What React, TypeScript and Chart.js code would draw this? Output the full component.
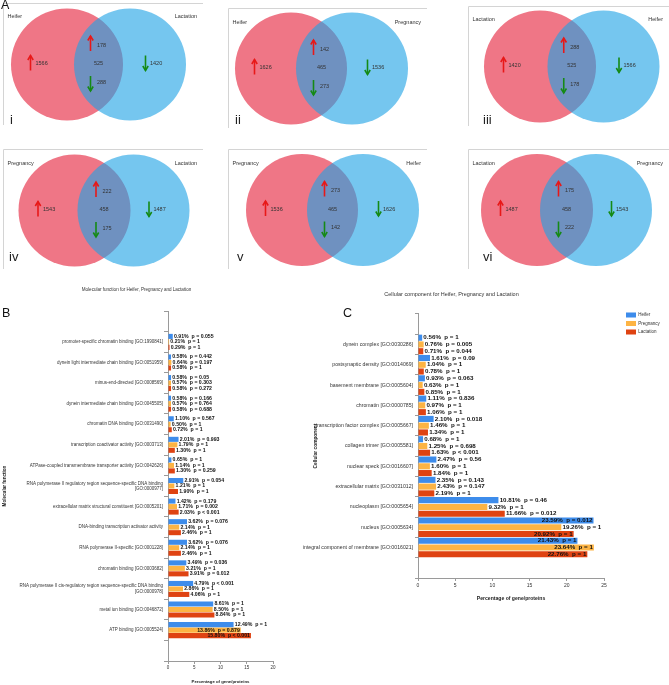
import React, { useEffect, useRef } from 'react';
import { Chart, registerables } from 'chart.js';

Chart.register(...registerables);

const FONT = '"Liberation Sans", Arial, sans-serif';

// ---------- Venn data ----------
const vennLeftNames = ['Heifer', 'Heifer', 'Lactation', 'Pregnancy', 'Pregnancy', 'Lactation'];
const vennRightNames = ['Lactation', 'Pregnancy', 'Heifer', 'Lactation', 'Heifer', 'Pregnancy'];
const vennLeftOnly = [1566, 1626, 1420, 1543, 1536, 1487];
const vennSharedUp = [178, 142, 288, 222, 273, 175];
const vennShared = [525, 465, 525, 458, 465, 458];
const vennSharedDown = [288, 273, 178, 175, 142, 222];
const vennRightOnly = [1420, 1536, 1566, 1487, 1626, 1543];
const vennNumerals = ['i', 'ii', 'iii', 'iv', 'v', 'vi'];

// ---------- Bar chart data ----------
const seriesNames = ['Heifer', 'Pregnancy', 'Lactation'];

const mfCategories = [
  'promoter-specific chromatin binding [GO:1990841]',
  'dynein light intermediate chain binding [GO:0051959]',
  'minus-end-directed [GO:0008569]',
  'dynein intermediate chain binding [GO:0045505]',
  'chromatin DNA binding [GO:0031490]',
  'transcription coactivator activity [GO:0003713]',
  'ATPase-coupled transmembrane transporter activity [GO:0042626]',
  'RNA polymerase II regulatory region sequence-specific DNA binding [GO:0000977]',
  'extracellular matrix structural constituent [GO:0005201]',
  'DNA-binding transcription activator activity',
  'RNA polymerase II-specific [GO:0001228]',
  'chromatin binding [GO:0003682]',
  'RNA polymerase II cis-regulatory region sequence-specific DNA binding [GO:0000978]',
  'metal ion binding [GO:0046872]',
  'ATP binding [GO:0005524]',
];
const mfHeifer = [0.91, 0.58, 0.58, 0.58, 1.10, 2.01, 0.65, 2.91, 1.42, 3.62, 3.62, 3.49, 4.79, 8.61, 12.49];
const mfPregnancy = [0.21, 0.64, 0.57, 0.57, 0.50, 1.79, 1.14, 1.21, 1.71, 2.14, 2.14, 3.21, 2.86, 8.50, 13.86];
const mfLactation = [0.29, 0.58, 0.58, 0.58, 0.72, 1.30, 1.30, 1.90, 2.03, 2.46, 2.46, 3.91, 4.06, 8.84, 15.80];
const mfHeiferP = ['0.055', '0.442', '0.05', '0.166', '0.567', '0.993', '1', '0.054', '0.179', '0.076', '0.076', '0.036', '<0.001', '1', '1'];
const mfPregnancyP = ['1', '0.197', '0.303', '0.764', '1', '1', '1', '1', '0.002', '1', '1', '1', '1', '1', '0.879'];
const mfLactationP = ['1', '1', '0.272', '0.688', '1', '1', '0.259', '1', '<0.001', '1', '1', '0.012', '1', '1', '<0.001'];
const mfXTicks = [0, 5, 10, 15, 20];

const ccCategories = [
  'dynein complex [GO:0030286]',
  'postsynaptic density [GO:0014069]',
  'basement membrane [GO:0005604]',
  'chromatin [GO:0000785]',
  'transcription factor complex [GO:0005667]',
  'collagen trimer [GO:0005581]',
  'nuclear speck [GO:0016607]',
  'extracellular matrix [GO:0031012]',
  'nucleoplasm [GO:0005654]',
  'nucleus [GO:0005634]',
  'integral component of membrane [GO:0016021]',
];
const ccHeifer = [0.56, 1.61, 0.93, 1.11, 2.10, 0.68, 2.47, 2.35, 10.81, 23.59, 21.43];
const ccPregnancy = [0.76, 1.04, 0.63, 0.97, 1.46, 1.25, 1.60, 2.43, 9.32, 19.26, 23.64];
const ccLactation = [0.71, 0.78, 0.85, 1.06, 1.34, 1.63, 1.84, 2.19, 11.66, 20.92, 22.76];
const ccHeiferP = ['1', '0.09', '0.063', '0.836', '0.018', '1', '0.56', '0.143', '0.46', '0.012', '1'];
const ccPregnancyP = ['0.005', '1', '1', '1', '1', '0.698', '1', '0.147', '1', '1', '1'];
const ccLactationP = ['0.044', '1', '1', '1', '1', '<0.001', '1', '1', '0.012', '1', '1'];
const ccXTicks = [0, 5, 10, 15, 20, 25];

// ---------- styles / layout ----------
const seriesColors = ['#3d8ceb', '#fdb444', '#df4312'];
const AXIS_COLOR = '#9a9a9a';
const VENN_LEFT_COLOR = 'rgb(239,118,134)';
const VENN_RIGHT_COLOR = 'rgba(29,162,229,0.61)';
const ARROW_UP = '#e81818';
const ARROW_DOWN = '#158a15';
const VENN_R = 56;
const VENN_BOX = [
  { x: 3, y: 3, w: 200, h: 122 },
  { x: 228, y: 8, w: 199, h: 120 },
  { x: 468, y: 6, w: 201, h: 120 },
  { x: 3, y: 149, w: 200, h: 120 },
  { x: 228, y: 149, w: 199, h: 120 },
  { x: 468, y: 149, w: 201, h: 120 },
];
const VENN_CENTERS = [
  [64, 127, 61.5],
  [63, 124, 60.5],
  [72, 135.5, 60.5],
  [71.5, 130.5, 61.5],
  [74, 135, 61],
  [69, 128, 61],
];
const NUMERAL_POS = [[7, 117], [7, 112], [15, 114], [6, 108], [9, 108], [15, 108]];
const LABEL_Y = [13, 14, 13, 14, 14, 14];

function drawArrow(ctx: any, x: number, yc: number, up: boolean, color: string) {
  const half = 7.5;
  const tip = up ? yc - half : yc + half;
  const tail = up ? yc + half : yc - half;
  const d = up ? 4.5 : -4.5;
  ctx.save();
  ctx.strokeStyle = color;
  ctx.lineWidth = 1.6;
  ctx.lineJoin = 'miter';
  ctx.beginPath();
  ctx.moveTo(x, tail);
  ctx.lineTo(x, tip);
  ctx.stroke();
  ctx.beginPath();
  ctx.moveTo(x - 2.7, tip + d);
  ctx.lineTo(x, tip);
  ctx.lineTo(x + 2.7, tip + d);
  ctx.stroke();
  ctx.restore();
}

function makeVennPlugin(i: number) {
  return {
    id: 'vennText' + i,
    afterDatasetsDraw(chart: any) {
      const { ctx } = chart;
      const box = VENN_BOX[i];
      const xs = chart.scales.x;
      const ys = chart.scales.y;
      const X = (v: number) => xs.getPixelForValue(v);
      const Y = (v: number) => ys.getPixelForValue(v);
      const [lcx, rcx, cy] = VENN_CENTERS[i];
      const mid = (lcx + rcx) / 2;
      const ty = cy - 1;
      ctx.save();
      ctx.strokeStyle = '#d4d4d4';
      ctx.lineWidth = 1;
      ctx.beginPath();
      ctx.moveTo(0.5, chart.height);
      ctx.lineTo(0.5, 0.5);
      ctx.lineTo(chart.width, 0.5);
      ctx.stroke();

      ctx.fillStyle = '#333';
      ctx.textBaseline = 'middle';
      ctx.font = `5.5px ${FONT}`;
      ctx.textAlign = 'left';
      ctx.fillText(vennLeftNames[i], X(4.5), Y(LABEL_Y[i]));
      ctx.textAlign = 'right';
      ctx.fillText(vennRightNames[i], X(box.w - 6), Y(LABEL_Y[i]));

      ctx.textAlign = 'left';
      ctx.fillText(String(vennLeftOnly[i]), X(lcx - 31.5), Y(ty));
      ctx.fillText(String(vennSharedUp[i]), X(mid - 1.5), Y(ty - 18.5));
      ctx.fillText(String(vennSharedDown[i]), X(mid - 1.5), Y(ty + 18.5));
      ctx.fillText(String(vennRightOnly[i]), X(rcx + 20), Y(ty));
      ctx.textAlign = 'center';
      ctx.fillText(String(vennShared[i]), X(mid), Y(ty));

      drawArrow(ctx, X(lcx - 36.5), Y(cy - 1.5), true, ARROW_UP);
      drawArrow(ctx, X(mid - 8), Y(cy - 21), true, ARROW_UP);
      drawArrow(ctx, X(mid - 8), Y(cy + 19), false, ARROW_DOWN);
      drawArrow(ctx, X(rcx + 15.5), Y(cy - 1.5), false, ARROW_DOWN);

      ctx.font = `13px ${FONT}`;
      ctx.fillStyle = '#222';
      ctx.textAlign = 'left';
      ctx.fillText(vennNumerals[i], X(NUMERAL_POS[i][0]), Y(NUMERAL_POS[i][1]));
      ctx.restore();
    },
  };
}

function vennConfig(i: number) {
  const box = VENN_BOX[i];
  const [lcx, rcx, cy] = VENN_CENTERS[i];
  return {
    type: 'bubble',
    data: {
      datasets: [
        { label: vennLeftNames[i], data: [{ x: lcx, y: cy, r: VENN_R }], backgroundColor: VENN_LEFT_COLOR, borderWidth: 0, hoverBorderWidth: 0, order: 2, clip: false },
        { label: vennRightNames[i], data: [{ x: rcx, y: cy, r: VENN_R }], backgroundColor: VENN_RIGHT_COLOR, borderWidth: 0, hoverBorderWidth: 0, order: 1, clip: false },
      ],
    },
    options: {
      responsive: false,
      animation: false,
      events: [],
      layout: { autoPadding: false, padding: 0 },
      plugins: { legend: { display: false }, tooltip: { enabled: false }, title: { display: false } },
      scales: {
        x: { type: 'linear', display: false, min: 0, max: box.w },
        y: { type: 'linear', display: false, min: 0, max: box.h, reverse: true },
      },
    },
    plugins: [makeVennPlugin(i)],
  };
}

function formatBarLabel(v: number, p: string) {
  const ps = p.startsWith('<') ? `p < ${p.slice(1)}` : `p = ${p}`;
  return `${v.toFixed(2)}%  ${ps}`;
}

function makeBarLabelPlugin(pvals: string[][], size: number) {
  return {
    id: 'barLabels',
    afterDatasetsDraw(chart: any) {
      const { ctx, chartArea } = chart;
      ctx.save();
      ctx.font = `bold ${size}px ${FONT}`;
      ctx.fillStyle = '#111';
      ctx.textBaseline = 'middle';
      chart.data.datasets.forEach((ds: any, di: number) => {
        const meta = chart.getDatasetMeta(di);
        meta.data.forEach((bar: any, idx: number) => {
          const text = formatBarLabel(ds.data[idx].x, pvals[di][idx]);
          const w = ctx.measureText(text).width;
          if (bar.x + 1.2 + w <= chartArea.right) {
            ctx.textAlign = 'left';
            ctx.fillText(text, bar.x + 1.2, bar.y);
          } else {
            ctx.textAlign = 'right';
            ctx.fillText(text, bar.x - 1, bar.y);
          }
        });
      });
      ctx.restore();
    },
  };
}

function makeLegendShift(left: number, top: number) {
  return {
    id: 'legendShift',
    afterLayout(chart: any) {
      const lg = chart.legend;
      if (!lg) return;
      const h = lg.height;
      lg.left = left;
      lg.right = chart.width;
      lg.width = chart.width - left;
      lg.top = top;
      lg.bottom = top + h;
    },
  };
}

function wrapLabel(label: string | undefined) {
  if (!label) return '';
  if (label.length > 70) {
    const k = label.lastIndexOf(' ');
    return [label.slice(0, k), label.slice(k + 1)];
  }
  return label;
}

function barDatasets(series: number[][], catPct: number, barPct: number) {
  return series.map((vals, si) => ({
    label: seriesNames[si],
    data: vals.map((v, i) => ({ x: v, y: i })),
    backgroundColor: seriesColors[si],
    borderWidth: 0,
    categoryPercentage: catPct,
    barPercentage: barPct,
  }));
}

function barOptions(o: any) {
  const n = o.categories.length;
  const yTicks: number[] = [];
  for (let k = -1; k <= n; k++) yTicks.push(k);
  return {
    indexAxis: 'y',
    responsive: false,
    animation: false,
    events: [],
    layout: { padding: { left: 0, right: o.padRight, top: 0, bottom: 0 } },
    plugins: {
      tooltip: { enabled: false },
      legend: o.legend,
      title: {
        display: true,
        text: o.title,
        color: '#333',
        font: { family: FONT, size: o.titleSize, weight: 'normal' },
        padding: { top: o.titlePadTop, bottom: o.titlePadBottom },
      },
    },
    scales: {
      x: {
        type: 'linear',
        position: 'bottom',
        min: 0,
        max: o.xTicks[o.xTicks.length - 1],
        afterBuildTicks: (s: any) => { s.ticks = o.xTicks.map((v: number) => ({ value: v })); },
        afterFit: (s: any) => { s.height = o.xAxisHeight; },
        grid: { display: true, drawOnChartArea: false, drawTicks: true, tickLength: 3, color: AXIS_COLOR },
        border: { display: true, color: AXIS_COLOR, width: 1 },
        ticks: { font: { family: FONT, size: o.xTickSize }, color: '#333', padding: o.xTickPad, maxRotation: 0, autoSkip: false },
        title: {
          display: true,
          text: 'Percentage of gene/proteins',
          color: '#222',
          font: { family: FONT, size: o.xTitleSize, weight: 'bold' },
          padding: { top: 0, bottom: o.xTitlePadBottom },
        },
      },
      y: {
        type: 'linear',
        position: 'left',
        reverse: true,
        min: -1,
        max: n,
        afterBuildTicks: (s: any) => { s.ticks = yTicks.map((v) => ({ value: v })); },
        afterFit: (s: any) => { s.width = o.yAxisWidth; },
        grid: { display: true, drawOnChartArea: false, drawTicks: true, tickLength: o.yTickLen, color: AXIS_COLOR },
        border: { display: true, color: AXIS_COLOR, width: 1 },
        ticks: {
          autoSkip: false,
          font: { family: FONT, size: o.yTickSize },
          color: '#333',
          padding: o.yTickPad,
          callback: (v: number) => wrapLabel(o.categories[v]),
        },
        title: {
          display: true,
          text: o.yTitle,
          color: '#222',
          font: { family: FONT, size: o.yTitleSize, weight: 'bold' },
          padding: { top: o.yTitlePad, bottom: 0 },
        },
      },
    },
  };
}

function mfConfig() {
  return {
    type: 'bar',
    data: { datasets: barDatasets([mfHeifer, mfPregnancy, mfLactation], 0.8, 0.92) },
    options: barOptions({
      categories: mfCategories,
      xTicks: mfXTicks,
      padRight: 51,
      legend: { display: false },
      title: 'Molecular function for Heifer, Pregnancy and Lactation',
      titleSize: 4.56,
      titlePadTop: 4.26,
      titlePadBottom: 18.27,
      xAxisHeight: 24,
      xTickSize: 4.5,
      xTickPad: 1.5,
      xTitleSize: 4.3,
      xTitlePadBottom: 0.3,
      yAxisWidth: 168,
      yTickLen: 4,
      yTickSize: 4.5,
      yTickPad: 1,
      yTitle: 'Molecular function',
      yTitleSize: 4.6,
      yTitlePad: 2,
    }),
    plugins: [makeBarLabelPlugin([mfHeiferP, mfPregnancyP, mfLactationP], 5.2)],
  };
}

function ccConfig() {
  return {
    type: 'bar',
    data: { datasets: barDatasets([ccHeifer, ccPregnancy, ccLactation], 1.0, 0.9) },
    options: barOptions({
      categories: ccCategories,
      xTicks: ccXTicks,
      padRight: 35,
      legend: {
        display: true,
        position: 'right',
        align: 'start',
        maxWidth: 30,
        labels: { boxWidth: 10, boxHeight: 5, padding: 3.5, color: '#333', font: { family: FONT, size: 4.5 } },
      },
      title: 'Cellular component for Heifer, Pregnancy and Lactation',
      titleSize: 5.48,
      titlePadTop: 7.71,
      titlePadBottom: 16.71,
      xAxisHeight: 27,
      xTickSize: 5,
      xTickPad: 2,
      xTitleSize: 5.1,
      xTitlePadBottom: 2.94,
      yAxisWidth: 149,
      yTickLen: 3,
      yTickSize: 5.2,
      yTickPad: 2,
      yTitle: 'Cellular component',
      yTitleSize: 4.8,
      yTitlePad: 44,
    }),
    plugins: [makeBarLabelPlugin([ccHeiferP, ccPregnancyP, ccLactationP], 6.2), makeLegendShift(353.5, 26)],
  };
}

function ChartCanvas(props: { left: number; top: number; width: number; height: number; makeConfig: () => any }) {
  const ref = useRef<HTMLCanvasElement | null>(null);
  useEffect(() => {
    const chart = new Chart(ref.current as HTMLCanvasElement, props.makeConfig());
    return () => chart.destroy();
  }, []);
  return (
    <canvas
      ref={ref}
      width={props.width}
      height={props.height}
      style={{ position: 'absolute', left: props.left, top: props.top, width: props.width, height: props.height }}
    />
  );
}

const panelLetter = (left: number, top: number): React.CSSProperties => ({
  position: 'absolute',
  left,
  top,
  fontFamily: FONT,
  fontSize: 12.5,
  lineHeight: '12.5px',
  color: '#111',
});

export default function App() {
  return (
    <div style={{ position: 'absolute', left: 0, top: 0, width: 669, height: 685, background: '#fff', overflow: 'hidden' }}>
      {VENN_BOX.map((b, i) => (
        <ChartCanvas key={i} left={b.x} top={b.y} width={b.w} height={b.h} makeConfig={() => vennConfig(i)} />
      ))}
      <ChartCanvas left={0} top={283} width={324} height={402} makeConfig={mfConfig} />
      <ChartCanvas left={269} top={283} width={400} height={322} makeConfig={ccConfig} />
      <div style={panelLetter(1, -0.6)}>A</div>
      <div style={panelLetter(2, 307.4)}>B</div>
      <div style={panelLetter(343, 307)}>C</div>
    </div>
  );
}
